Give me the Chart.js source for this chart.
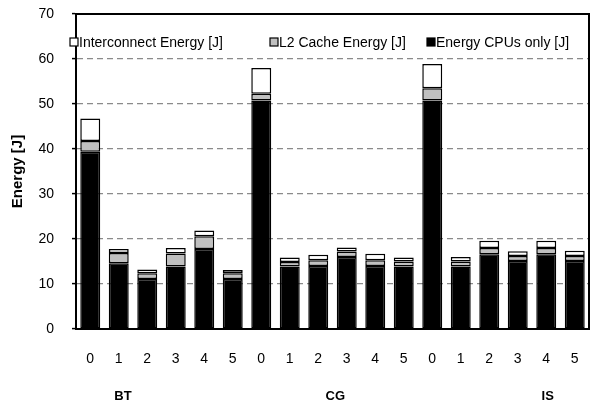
<!DOCTYPE html>
<html>
<head>
<meta charset="utf-8">
<script src="https://cdn.jsdelivr.net/npm/chart.js@4"></script>
<style>
  body { margin: 0; background: #fff; }
  #wrap { width: 593px; height: 405px; }
</style>
</head>
<body>
<div id="wrap"><canvas id="myChart"></canvas></div>
<script>
const categories = ['0', '1', '2', '3', '4', '5', '0', '1', '2', '3', '4', '5', '0', '1', '2', '3', '4', '5'];
const groups = ['BT', 'CG', 'IS'];
const cpuEnergy = [39.4, 14.6, 11.1, 13.9, 17.8, 11.1, 50.8, 13.9, 14.0, 16.0, 14.0, 13.9, 50.8, 13.9, 16.6, 15.1, 16.6, 15.1];
const l2Energy = [2.4, 2.3, 1.3, 2.9, 2.8, 1.3, 1.5, 1.0, 1.3, 1.2, 1.3, 1.1, 2.7, 1.1, 1.4, 1.1, 1.4, 1.1];
const interconnectEnergy = [5.0, 0.9, 0.8, 1.2, 1.3, 0.7, 5.7, 1.0, 1.2, 0.9, 1.4, 0.9, 5.4, 1.0, 1.6, 1.1, 1.6, 1.2];

// where the group names sit, in category-index units (as in the original)
const groupAnchors = [1.15, 8.6, 16.05];
// legend entry offsets from the plot's left edge
const legendOffsets = [-6, 194, 351];

const FONT = 'Liberation Sans, Arial, sans-serif';

const frameAndLabels = {
    id: 'frameAndLabels',
    afterDraw(chart) {
        const c = chart.ctx;
        const area = chart.chartArea;
        const x = chart.scales.x;
        c.save();
        // plot frame
        c.strokeStyle = '#000';
        c.lineWidth = 2;
        c.strokeRect(area.left, area.top, area.right - area.left, area.bottom - area.top);

        // group names under the index labels
        c.font = 'bold 13px ' + FONT;
        c.fillStyle = '#000';
        c.textAlign = 'center';
        c.textBaseline = 'middle';
        groups.forEach((g, i) => {
            c.fillText(g, x.getPixelForValue(groupAnchors[i]), area.bottom + 67);
        });

        // legend inside the plot, in reversed stack order
        c.font = '14px ' + FONT;
        c.textAlign = 'left';
        const items = chart.data.datasets.slice().reverse();
        const ly = area.top + 28;
        items.forEach((ds, i) => {
            const bx = area.left + legendOffsets[i];
            c.fillStyle = ds.backgroundColor;
            c.fillRect(bx, ly - 4, 8, 8);
            c.lineWidth = 1.2;
            c.strokeStyle = '#000';
            c.strokeRect(bx, ly - 4, 8, 8);
            c.fillStyle = '#000';
            c.fillText(ds.label, bx + 9, ly + 1);
        });
        c.restore();
    }
};

const ctx = document.getElementById('myChart');

new Chart(ctx, {
    type: 'bar',
    data: {
        labels: categories,
        datasets: [
            {
                label: 'Energy CPUs only [J]',
                data: cpuEnergy,
                backgroundColor: '#000000',
                borderColor: '#000000',
                borderWidth: 1.5,
                borderSkipped: false
            },
            {
                label: 'L2 Cache Energy [J]',
                data: l2Energy,
                backgroundColor: '#c0c0c0',
                borderColor: '#000000',
                borderWidth: 1.5,
                borderSkipped: false
            },
            {
                label: 'Interconnect Energy [J]',
                data: interconnectEnergy,
                backgroundColor: '#ffffff',
                borderColor: '#000000',
                borderWidth: 1.5,
                borderSkipped: false
            }]
    },
    options: {
        responsive: true,
        maintainAspectRatio: false,
        animation: false,
        layout: { padding: { top: 14, right: 4, left: 0, bottom: 0 } },
        datasets: {
            bar: { barPercentage: 0.7, categoryPercentage: 1.0 }
        },
        plugins: {
            legend: { display: false },
            tooltip: { enabled: false }
        },
        scales: {
            x: {
                stacked: true,
                grid: { display: false },
                border: { display: true, color: '#000', width: 2 },
                ticks: { color: '#000', font: { family: FONT, size: 14 }, padding: 14, maxRotation: 0, autoSkip: false },
                afterFit(s) {
                    s.height = 76;
                    s.paddingLeft = 0;
                    s.paddingRight = 0;
                }
            },
            y: {
                stacked: true,
                min: 0,
                max: 70,
                ticks: { stepSize: 10, color: '#000', font: { family: FONT, size: 14 }, padding: 18 },
                grid: {
                    color: ctx2 => (ctx2.tick && (ctx2.tick.value === 0 || ctx2.tick.value === 70)) ? 'rgba(0,0,0,0)' : '#8a8a8a',
                    lineWidth: 1.2,
                    tickLength: 4,
                    tickColor: '#000',
                    tickWidth: 1.5
                },
                border: { display: true, color: '#000', width: 2, dash: [6, 4] },
                title: {
                    display: true,
                    text: 'Energy [J]',
                    color: '#000',
                    font: { family: FONT, size: 15, weight: 'bold' },
                    padding: { top: 9, bottom: 0 }
                },
                afterFit(s) {
                    s.width = 76;
                    s.paddingTop = 0;
                    s.paddingBottom = 0;
                }
            }
        }
    },
    plugins: [frameAndLabels]
});
</script>
</body>
</html>
